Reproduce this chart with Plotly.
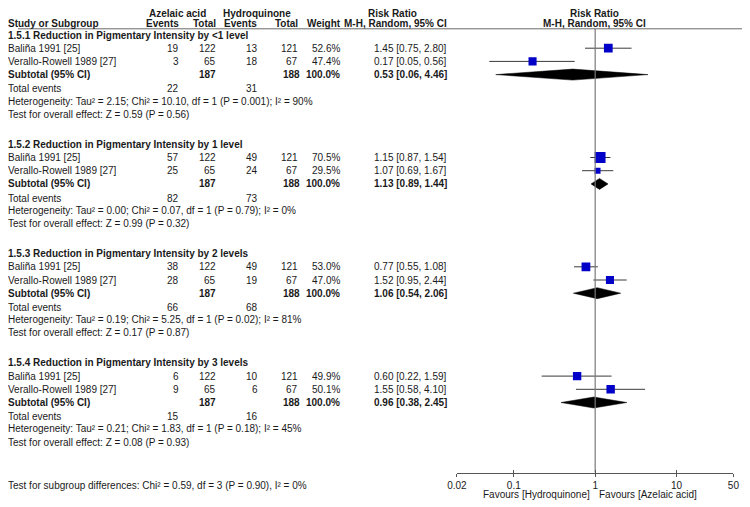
import numpy as np
import plotly.graph_objects as go

# 資料
subgroups = ["1.5.1 Reduction in Pigmentary Intensity by <1 level",
             "1.5.2 Reduction in Pigmentary Intensity by 1 level",
             "1.5.3 Reduction in Pigmentary Intensity by 2 levels",
             "1.5.4 Reduction in Pigmentary Intensity by 3 levels"]
studies = ["Baliña 1991 [25]", "Verallo-Rowell 1989 [27]"]
az_events = [[19, 3], [57, 25], [38, 28], [6, 9]]
az_total = [122, 65]
hq_events = [[13, 18], [49, 24], [49, 19], [10, 6]]
hq_total = [121, 67]
weights = [[52.6, 47.4], [70.5, 29.5], [53.0, 47.0], [49.9, 50.1]]
rr = [[1.45, 0.17], [1.15, 1.07], [0.77, 1.52], [0.60, 1.55]]
rr_lo = [[0.75, 0.05], [0.87, 0.69], [0.55, 0.95], [0.22, 0.58]]
rr_hi = [[2.80, 0.56], [1.54, 1.67], [1.08, 2.44], [1.59, 4.10]]
sub_rr = [0.53, 1.13, 1.06, 0.96]
sub_lo = [0.06, 0.89, 0.54, 0.38]
sub_hi = [4.46, 1.44, 2.06, 2.45]
tot_az = [22, 82, 66, 15]
tot_hq = [31, 73, 68, 16]
het_tau = ["2.15", "0.00", "0.19", "0.21"]
het_chi = ["10.10", "0.07", "5.25", "1.83"]
het_p = ["0.001", "0.79", "0.02", "0.18"]
het_i2 = [90, 0, 81, 45]
z_val = ["0.59", "0.99", "0.17", "0.08"]
z_p = ["0.56", "0.32", "0.87", "0.93"]
tick_vals = [0.02, 0.1, 1, 10, 50]
tick_text = ["0.02", "0.1", "1", "10", "50"]
overall_text = "Test for subgroup differences: Chi² = 0.59, df = 3 (P = 0.90), I² = 0%"

W, H = 750, 507
OFF = 8  # 頁面 body 的預設邊距
FONT = "Liberation Sans, Arial, sans-serif"
TXT = "#1a1a1a"
AX_Y = 472.5 - OFF
TOP_Y = 28.8 - OFF
LEFT_X = -10


def row_y(sec, r):
    return 35 + sec * 109.3 + r * 13.2 - OFF


annotations = []


def txt(x, y, s, anchor="left", bold=False):
    annotations.append(dict(
        x=(x - OFF) / W, y=y, xref="paper", yref="y",
        text=("<b>%s</b>" % s) if bold else s,
        showarrow=False, xanchor=anchor, yanchor="middle", borderpad=0, borderwidth=0,
        font=dict(family=FONT, size=10, color=TXT)))


def left(y, s, bold=False):
    annotations.append(dict(
        x=LEFT_X / W, y=y, xref="paper", yref="y",
        text=("<b>%s</b>" % s) if bold else s,
        showarrow=False, xanchor="left", yanchor="middle", borderpad=0, borderwidth=0,
        font=dict(family=FONT, size=10, color=TXT)))


# 表頭
H1, H2 = 13.5 - OFF, 23.8 - OFF
txt(170.5, H1, "Azelaic acid", "center", True)
txt(252, H1, "Hydroquinone", "center", True)
txt(391, H1, "Risk Ratio", "center", True)
txt(597.5, H1, "Risk Ratio", "center", True)
left(H2, "Study or Subgroup", True)
txt(172.5, H2, "Events", "right", True)
txt(210.5, H2, "Total", "right", True)
txt(252.5, H2, "Events", "right", True)
txt(294, H2, "Total", "right", True)
txt(338.5, H2, "Weight", "right", True)
txt(446.5, H2, "M-H, Random, 95% CI", "right", True)
txt(597.5, H2, "M-H, Random, 95% CI", "center", True)

fig = go.Figure()

for s in range(4):
    left(row_y(s, 0), subgroups[s], True)
    for i in range(2):
        y = row_y(s, i + 1)
        left(y, studies[i])
        txt(172.5, y, str(az_events[s][i]), "right")
        txt(210.5, y, str(az_total[i]), "right")
        txt(253.5, y, str(hq_events[s][i]), "right")
        txt(294, y, str(hq_total[i]), "right")
        txt(337.5, y, "%.1f%%" % weights[s][i], "right")
        txt(446.5, y, "%.2f [%.2f, %.2f]" % (rr[s][i], rr_lo[s][i], rr_hi[s][i]), "right")
        # 信賴區間
        fig.add_trace(go.Scatter(
            x=[rr_lo[s][i], rr_hi[s][i]], y=[y, y], mode="lines",
            line=dict(color="#3a3a3a", width=1), hoverinfo="skip", showlegend=False))
        fig.add_trace(go.Scatter(
            x=[rr[s][i]], y=[y], mode="markers",
            marker=dict(symbol="square", color="#0000C8", size=2.4 + 0.12 * weights[s][i],
                        line=dict(width=0)),
            showlegend=False))
    y = row_y(s, 3)
    left(y, "Subtotal (95% CI)", True)
    txt(210.5, y, str(sum(az_total)), "right", True)
    txt(296.5, y, str(sum(hq_total)), "right", True)
    txt(337.5, y, "100.0%", "right", True)
    txt(446.5, y, "%.2f [%.2f, %.2f]" % (sub_rr[s], sub_lo[s], sub_hi[s]), "right", True)
    # 菱形
    fig.add_trace(go.Scatter(
        x=[sub_lo[s], sub_rr[s], sub_hi[s], sub_rr[s], sub_lo[s]],
        y=[y, y - 5.5, y, y + 5.5, y], mode="lines", fill="toself",
        fillcolor="black", line=dict(color="black", width=0.5),
        hoverinfo="skip", showlegend=False))
    y = row_y(s, 4) + 1
    left(y, "Total events")
    txt(172.5, y, str(tot_az[s]), "right")
    txt(253.5, y, str(tot_hq[s]), "right")
    left(row_y(s, 5), "Heterogeneity: Tau² = %s; Chi² = %s, df = 1 (P = %s); I² = %d%%"
         % (het_tau[s], het_chi[s], het_p[s], het_i2[s]))
    left(row_y(s, 6), "Test for overall effect: Z = %s (P = %s)" % (z_val[s], z_p[s]))

left(485 - OFF, overall_text)
txt(592.5, 494.5 - OFF, "Favours [Hydroquinone]", "right")
txt(602, 494.5 - OFF, "Favours [Azelaic acid]", "left")

# RR = 1 參考線
fig.add_trace(go.Scatter(x=[1, 1], y=[TOP_Y, AX_Y], mode="lines",
                         line=dict(color="#7a7a7a", width=1.2),
                         hoverinfo="skip", showlegend=False))
# 讓第二個 x 軸顯示
fig.add_trace(go.Scatter(x=[1], y=[AX_Y], xaxis="x2", mode="markers",
                         marker=dict(opacity=0), hoverinfo="skip", showlegend=False))

rng = [np.log10(tick_vals[0]), np.log10(tick_vals[-1])]
pos = 1 - AX_Y / H
dom = [(456.5 - OFF) / W, (739 - OFF) / W]
fig.update_layout(
    width=W, height=H,
    margin=dict(l=0, r=0, t=0, b=0),
    paper_bgcolor="white", plot_bgcolor="white",
    annotations=annotations,
    shapes=[dict(type="line", xref="paper", yref="y", x0=0, x1=1, y0=TOP_Y, y1=TOP_Y,
                 line=dict(color="#6a6a6a", width=1))],
    xaxis=dict(type="log", domain=dom, range=rng,
               anchor="free", position=pos, showline=True, linecolor="#555",
               linewidth=1, tickvals=tick_vals, ticktext=tick_text,
               ticks="outside", ticklen=3, tickcolor="#555", showgrid=False,
               zeroline=False, tickfont=dict(family=FONT, size=10, color=TXT)),
    xaxis2=dict(type="log", overlaying="x", domain=dom, range=rng,
                anchor="free", position=pos, showline=False, tickvals=tick_vals,
                ticks="inside", ticklen=3, tickcolor="#555", showticklabels=False,
                showgrid=False, zeroline=False, side="bottom"),
    yaxis=dict(range=[H, 0], domain=[0, 1], visible=False),
)

fig.write_html("out.html")
